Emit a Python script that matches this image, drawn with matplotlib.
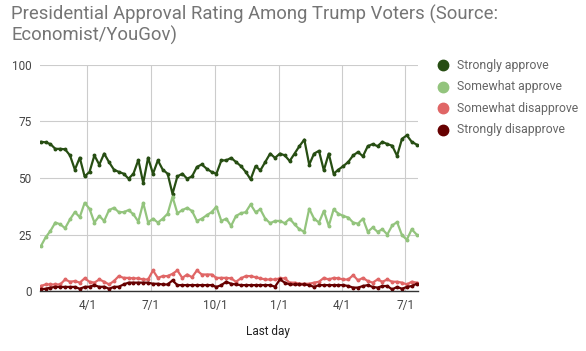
import matplotlib
matplotlib.use("Agg")
import matplotlib.pyplot as plt
import matplotlib.dates as mdates
from matplotlib.lines import Line2D
import pandas as pd

plt.rcParams['font.family'] = ['Roboto', 'DejaVu Sans']

# weekly poll end dates
dates = pd.date_range("2017-01-24", periods=78, freq="7D")

strongly_approve = [
    66, 65.8, 65, 62.9, 62.9, 62.7, 60, 53.7, 59, 50.7,
    52.7, 60, 55.9, 60.8, 57, 53.7, 52.7, 51.9, 49.7, 51.9,
    58, 47.8, 59, 51.9, 57.8, 53.7, 51.9, 43, 50.7, 51.9,
    49.7, 50.7, 54.9, 56, 54.1, 52.7,
    51.9, 57.8, 57.8, 58.9, 57.1, 55.3, 52.7, 49.4, 55.2, 53.4,
    57.1, 60.8, 58.9, 60.8, 60, 57.5, 60.8, 64.1, 67, 55.9,
    60.8, 62, 53.4, 60.8, 51.9, 53.7, 55.3, 57.1, 60, 61.5,
    59.6, 64.1, 65, 64.1,
    66, 65, 64.3, 59.8, 67.3, 68.9, 66, 64.8,
]
somewhat_approve = [
    19.7, 23.7, 26.6, 30.3, 29.5, 27.8, 31.7, 34.9, 32.7, 39,
    36.4, 30.3, 33.2, 31, 35.8, 36.8, 34.9, 34.9, 35.8, 33.9,
    30.7, 39, 30.3, 32, 30.3, 32, 34.2, 41.7, 34.4, 35.8,
    36.8, 35.4, 31, 32, 33.5, 34.9,
    37.3, 31, 32, 28.8, 33.2, 34.4, 34.9, 38.3, 34.9, 36.1,
    32, 30, 31, 31, 30, 32, 29.5, 27.3, 26.2, 36.4,
    32, 30.3, 35.4, 28.8, 36.1, 34.2, 33.2, 32.5, 30.3, 29.8,
    32, 26.2, 28.1, 26.2,
    27.3, 25, 29, 30.5, 24.7, 22.7, 27.3, 25,
]
somewhat_disapprove = [
    2.2, 2.9, 2.9, 2.9, 2.9, 5.1, 4.1, 4.4, 3.7, 5.6,
    4.1, 3.7, 5.1, 4.1, 2.9, 4.4, 6.6, 5.8, 5.8, 5.6,
    5.6, 5.1, 5.1, 9.1, 5.8, 6.6, 6.6, 7.6, 9.1, 5.8,
    7.3, 6.1, 9.1, 7.3, 7.3, 7.3, 5.8, 5.8, 5.8, 5.6,
    4.1, 5.6, 6.6, 6.6, 6.1, 5.6, 5.1, 5.1, 5.1, 5.6,
    5.6, 3.7, 3.7, 3.2, 3.2, 3.2,
    3.7, 4.1, 5.8, 5.1, 5.8, 5.6, 5.1, 5.1, 7, 4.7,
    5.8, 4.4, 3.7, 5.1, 4.1, 5.1, 4.1, 4.1, 3.7, 2.9,
    4.1, 3.7,
]
strongly_disapprove = [
    0.7, 1, 1.5, 1.8, 1.8, 1.8, 1.8, 1.8, 1, 1.8,
    1.9, 2.6, 1.8, 1.9, 1, 1.8, 1.9, 2.9, 3.7, 3.7,
    3.7, 3.7, 3.7, 3.2, 3.2, 2.9, 2.9, 4.7, 2.6, 2.6,
    2.6, 2.6, 2.6, 2.6, 2.6, 2.6, 1.8, 2.6, 4.1, 3.2,
    2.9, 2.6, 2.6, 2.6, 2.6, 2.6, 2.6, 2.6, 1.9, 5.1,
    3.7, 2.9, 2.9, 2.9, 2.9, 2.6,
    1.8, 2.6, 2.6, 2.6, 2.6, 2.6, 2.6, 2.2, 1.5, 1.5,
    2.2, 2.6, 1.8, 1.5, 2.2, 2.2, 0.7, 1.8, 1, 1.8,
    2.2, 3.2,
]

series = [
    ("Strongly approve", strongly_approve, "#274e13"),
    ("Somewhat approve", somewhat_approve, "#93c47d"),
    ("Somewhat disapprove", somewhat_disapprove, "#e06666"),
    ("Strongly disapprove", strongly_disapprove, "#660000"),
]

W, H = 586, 351
fig = plt.figure(figsize=(W / 100, H / 100), dpi=100)
ax = fig.add_axes([40 / W, 1 - 291 / H, 378 / W, 226 / H])

for name, vals, col in series:
    ax.plot(dates, vals, color=col, lw=1.6, marker="o", ms=1.8, label=name)

ax.set_ylim(0, 100)
ax.set_yticks([0, 25, 50, 75, 100])
ax.set_xlim(dates[0] - pd.Timedelta(days=1), dates[-1] + pd.Timedelta(days=2))
ticks = pd.to_datetime(["2017-04-01", "2017-07-01", "2017-10-01",
                        "2018-01-01", "2018-04-01", "2018-07-01"])
ax.set_xticks(ticks)
ax.xaxis.set_major_formatter(mdates.DateFormatter("%-m/%-d"))
ax.grid(True, color="#cccccc", lw=0.8)
ax.set_axisbelow(True)
for s in ["top", "right", "left"]:
    ax.spines[s].set_visible(False)
ax.spines["bottom"].set_color("#333333")
ax.spines["bottom"].set_linewidth(1)
ax.tick_params(length=0, labelsize=8.5, colors="#444444", pad=6)

fig.text(11 / W, 1 - 5 / H,
         "Presidential Approval Rating Among Trump Voters (Source:\nEconomist/YouGov)",
         fontsize=13.3, color="#757575", va="top", ha="left", linespacing=1.12)
fig.text(268 / W, 1 - 332 / H, "Last day", fontsize=8.5, color="#222222",
         ha="center", va="center")

# legend, placed by hand
rows = [65, 86.5, 108.5, 130]
for (name, vals, col), y in zip(series, rows):
    fig.add_artist(Line2D([443 / W], [1 - y / H], marker="o", ms=7.5,
                          color=col, linestyle="None", transform=fig.transFigure))
    fig.text(457 / W, 1 - y / H, name, fontsize=8.8, color="#666666",
             ha="left", va="center")

fig.savefig("out.png", dpi=100)
